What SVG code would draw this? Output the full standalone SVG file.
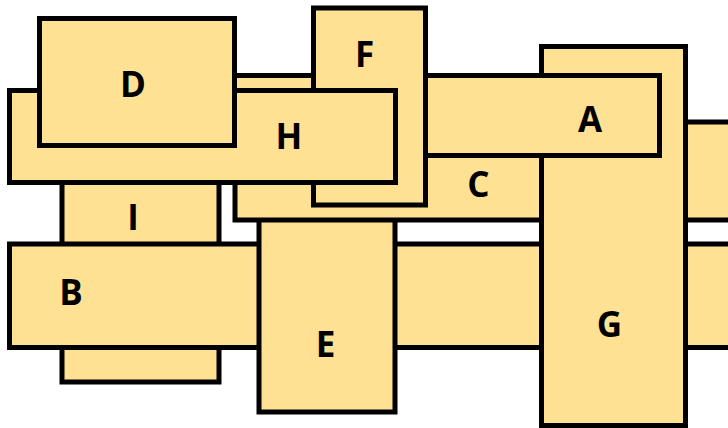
<svg xmlns="http://www.w3.org/2000/svg" width="728" height="428" viewBox="0 0 728 428">
<style>
.box{fill:#FFE194;stroke:#000;stroke-width:5}
.lbl{font-family:"Open Sans","DejaVu Sans",sans-serif;font-weight:bold;font-size:35px;fill:#000;text-anchor:middle}
</style>
<rect width="728" height="428" fill="#fff"/>
<g id="I"><rect class="box" x="62" y="140" width="157" height="242"/><text class="lbl" x="133" y="230">I</text></g>
<g id="B"><rect class="box" x="9.5" y="244" width="800" height="103.5"/><text class="lbl" x="71" y="305">B</text></g>
<g id="E"><rect class="box" x="259" y="170" width="136" height="242"/><text class="lbl" x="325.5" y="357">E</text></g>
<g id="C"><rect class="box" x="235" y="122" width="600" height="98"/><text class="lbl" x="478.5" y="197">C</text></g>
<g id="G"><rect class="box" x="541.5" y="46.5" width="144" height="379"/><text class="lbl" x="609.5" y="336.5">G</text></g>
<g id="A"><rect class="box" x="120" y="75.5" width="539.5" height="80"/><text class="lbl" x="590" y="132">A</text></g>
<g id="F"><rect class="box" x="313.5" y="8" width="112" height="197"/><text class="lbl" x="364.5" y="67">F</text></g>
<g id="H"><rect class="box" x="9.5" y="90.5" width="386" height="92"/><text class="lbl" x="289" y="149">H</text></g>
<g id="D"><rect class="box" x="39.5" y="18.5" width="195" height="127"/><text class="lbl" x="133" y="96.5">D</text></g>
</svg>
